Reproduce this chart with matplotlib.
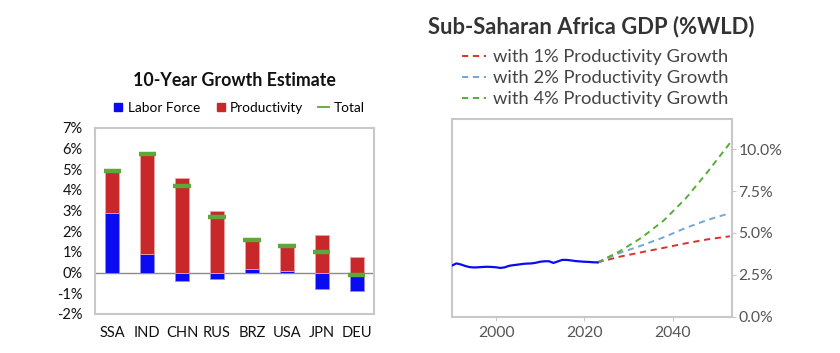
import matplotlib.pyplot as plt
import numpy as np
from matplotlib.lines import Line2D
from matplotlib.ticker import FuncFormatter

plt.rcParams.update({
    "font.family": ["Lato", "DejaVu Sans"],
    "font.size": 10,
})

# Left panel: 10-year growth decomposition (% per year)
countries = ["SSA", "IND", "CHN", "RUS", "BRZ", "USA", "JPN", "DEU"]
labor_force = [2.9, 0.9, -0.4, -0.3, 0.2, 0.1, -0.8, -0.9]
productivity = [1.95, 4.8, 4.6, 3.0, 1.32, 1.13, 1.8, 0.77]
total = [4.9, 5.75, 4.2, 2.7, 1.58, 1.3, 1.0, -0.1]

# Right panel: SSA share of world GDP (%)
hist_years = list(range(1990, 2024))
hist_share = [3.05, 3.18, 3.12, 3.03, 2.96, 2.94, 2.95, 2.97, 2.98, 2.97,
              2.95, 2.91, 2.95, 3.04, 3.08, 3.11, 3.15, 3.17, 3.18, 3.22,
              3.28, 3.31, 3.31, 3.21, 3.30, 3.39, 3.39, 3.36, 3.32, 3.30,
              3.28, 3.27, 3.25, 3.24]
proj_years = [2023, 2028, 2033, 2038, 2043, 2048, 2053]
proj_1pct = [3.24, 3.58, 3.85, 4.11, 4.38, 4.62, 4.80]
proj_2pct = [3.24, 3.80, 4.25, 4.74, 5.30, 5.78, 6.18]
proj_4pct = [3.24, 3.90, 4.72, 5.74, 7.06, 8.66, 10.36]

c_blue = "#0B0BF2"
c_red = "#C8282A"
c_green = "#5CA83A"
frame = "#C8C8C8"

fig = plt.figure(figsize=(8.4, 3.53), dpi=100)

# ---- left chart
ax1 = fig.add_axes([0.1131, 0.1105, 0.3321, 0.5269])
x = np.arange(len(countries))
w = 0.4
lab = np.array(labor_force)
ax1.bar(x, lab, w, color=c_blue, edgecolor="#8C8CF8", linewidth=0.6, zorder=2)
ax1.bar(x, productivity, w, bottom=np.clip(lab, 0, None), color=c_red,
        edgecolor="#EBA3A3", linewidth=0.6, zorder=2)
ax1.hlines(total, x - 0.25, x + 0.25, color=c_green, linewidth=3.2, zorder=3)
ax1.axhline(0, color="#8A8A8A", linewidth=1.0, zorder=1)
ax1.set_xlim(-0.5, len(countries) - 0.5)
ax1.set_ylim(-2, 7)
ax1.set_yticks(range(-2, 8))
ax1.yaxis.set_major_formatter(FuncFormatter(lambda v, p: f"{v:.0f}%"))
ax1.set_xticks(x)
ax1.set_xticklabels(countries)
ax1.tick_params(axis="both", length=0, labelsize=10.5, colors="#111111")
ax1.tick_params(axis="x", pad=9)
ax1.tick_params(axis="y", pad=9)
for s in ax1.spines.values():
    s.set_color(frame)
    s.set_linewidth(1.5)
ax1.set_title("10-Year Growth Estimate", fontsize=12.8, fontweight="bold",
              pad=30, color="#111111")
handles1 = [
    Line2D([], [], marker="s", linestyle="none", color=c_blue, markersize=6),
    Line2D([], [], marker="s", linestyle="none", color=c_red, markersize=6),
    Line2D([], [], color=c_green, linewidth=1.3),
]
ax1.legend(handles1, ["Labor Force", "Productivity", "Total"], ncol=3,
           loc="lower center", bbox_to_anchor=(0.515, 1.04), frameon=False,
           fontsize=9.8, handlelength=0.8, handletextpad=0.3,
           columnspacing=1.1, borderaxespad=0.1)

# ---- right chart
ax2 = fig.add_axes([0.538, 0.1028, 0.333, 0.5601])
ax2.plot(hist_years, hist_share, color=c_blue, linewidth=1.6, zorder=4)
dash = (0, (3.2, 2.4))
l1, = ax2.plot(proj_years, proj_1pct, color="#D9332E", linewidth=1.4,
               linestyle=dash, label="with 1% Productivity Growth")
l2, = ax2.plot(proj_years, proj_2pct, color="#72A7D6", linewidth=1.4,
               linestyle=dash, label="with 2% Productivity Growth")
l4, = ax2.plot(proj_years, proj_4pct, color="#55AE3A", linewidth=1.4,
               linestyle=dash, label="with 4% Productivity Growth")
ax2.set_xlim(1990, 2053.4)
ax2.set_ylim(0, 11.8)
ax2.set_xticks([2000, 2020, 2040])
ax2.set_yticks([0, 2.5, 5, 7.5, 10])
ax2.yaxis.set_major_formatter(FuncFormatter(lambda v, p: f"{v:.1f}%"))
ax2.yaxis.tick_right()
ax2.tick_params(axis="both", length=3, color=frame, labelsize=11.3,
                labelcolor="#555555")
ax2.tick_params(axis="y", pad=2)
ax2.tick_params(axis="x", pad=4)
for s in ax2.spines.values():
    s.set_color(frame)
    s.set_linewidth(1.5)

fig.text(0.5095, 0.925, "Sub-Saharan Africa GDP (%WLD)", fontsize=15.8,
         fontweight="bold", color="#333333", va="center")
fig.legend(handles=[l1, l2, l4], loc="upper left",
           bbox_to_anchor=(0.541, 0.882), frameon=False, fontsize=13.2,
           labelcolor="#444444", handlelength=1.3, handletextpad=0.4,
           labelspacing=0.28, borderaxespad=0)

fig.savefig("out.png", dpi=100)
